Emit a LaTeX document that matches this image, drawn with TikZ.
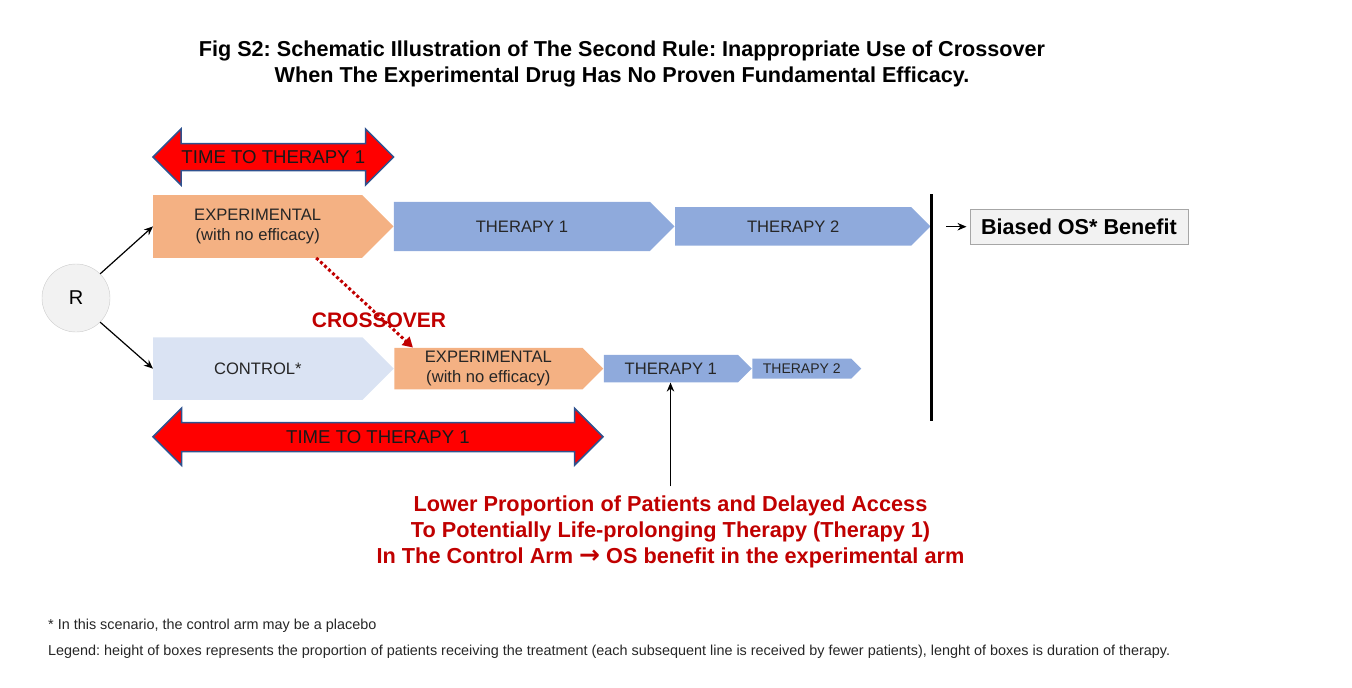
\documentclass[tikz,border=0pt]{standalone}
\usepackage{fontspec}
\setmainfont{Liberation Sans}
\newfontfamily\arrowfont{DejaVu Sans}
\usetikzlibrary{shapes.symbols,arrows.meta,calc}
\definecolor{expcol}{RGB}{244,177,131}
\definecolor{thcol}{RGB}{143,170,220}
\definecolor{ctrlcol}{RGB}{218,227,243}
\definecolor{darkred}{RGB}{192,0,0}
\definecolor{rimcol}{RGB}{47,82,143}
\definecolor{boxtext}{RGB}{38,38,38}
\frenchspacing
\tikzset{
  chev/.style={signal, signal to=east, signal pointer angle=90, inner sep=0pt, align=center, text=boxtext, font=\fontsize{16.6}{20}\selectfont, anchor=west},
  timearrow/.style={fill=red, draw=rimcol, line width=1.5pt, line join=miter},
  timetext/.style={text=black!90, font=\fontsize{18.6}{22}\selectfont},
  arr/.style={-{Stealth[length=9pt,width=7.5pt]}, line width=1.2pt},
  redbold/.style={text=darkred, font=\bfseries\fontsize{21.7}{25.8}\selectfont, align=center},
  foot/.style={anchor=base west, inner sep=0pt, text=boxtext, font=\fontsize{14.4}{16}\selectfont}
}
\begin{document}
\begin{tikzpicture}[x=1pt,y=-1pt]
    \useasboundingbox (0,0) rectangle (1352,688);
    \node[font=\bfseries\fontsize{21.6}{25.7}\selectfont, align=center] (title) at (622,63.9) {Fig S2: Schematic Illustration of The Second Rule: Inappropriate Use of Crossover\\When The Experimental Drug Has No Proven Fundamental Efficacy.};
    % time to therapy arrows
    \draw[timearrow] (153,157) -- (181,129) -- (181,143.5) -- (365.6,143.5) -- (365.6,129) -- (393.6,157) -- (365.6,185) -- (365.6,170.5) -- (181,170.5) -- (181,185) -- cycle;
    \node[timetext] (ttop) at (273.3,157) {TIME TO THERAPY 1};
    \draw[timearrow] (153,436.7) -- (181.5,408.2) -- (181.5,422.7) -- (574.5,422.7) -- (574.5,408.2) -- (603,436.7) -- (574.5,465.2) -- (574.5,451.7) -- (181.5,451.7) -- (181.5,465.2) -- cycle;
    \node[timetext] (tbot) at (378,436.7) {TIME TO THERAPY 1};
    % randomisation and arms
    \node[circle, fill=black!5, draw=black!20, minimum size=68pt, inner sep=0pt, font=\fontsize{20}{22}\selectfont] (R) at (76,298) {R};
    \node[chev, fill=expcol, minimum width=240.3pt, minimum height=62.7pt] (exp) at (153,226.4) {EXPERIMENTAL\\(with no efficacy)};
    \node[chev, fill=thcol, minimum width=280.6pt, minimum height=49.3pt] (th1) at (exp.east) {THERAPY 1};
    \node[chev, fill=thcol, minimum width=255.4pt, minimum height=38.4pt] (th2) at (th1.east) {THERAPY 2};
    \node[chev, fill=ctrlcol, minimum width=240.6pt, minimum height=62.6pt] (ctrl) at (153,368.6) {CONTROL*};
    \node[chev, fill=expcol, minimum width=209pt, minimum height=41.7pt] (bexp) at (ctrl.east) {EXPERIMENTAL\\(with no efficacy)};
    \node[chev, fill=thcol, minimum width=148pt, minimum height=27.6pt] (bth1) at (bexp.east) {THERAPY 1};
    \node[chev, fill=thcol, minimum width=109pt, minimum height=20pt, font=\fontsize{14}{16}\selectfont] (bth2) at (bth1.east) {THERAPY 2};
    \draw[arr] (R.45) -- (exp.west);
    \draw[arr] (R.-45) -- (ctrl.west);
    % crossover
    \coordinate (xo) at ($(exp.west)!0.678!(exp.east)$);
    \coordinate (xi) at ($(bexp.west)!0.09!(bexp.east)$);
    \draw[darkred, line width=3pt, dash pattern=on 3pt off 2.5pt, -{Triangle[length=10pt,width=11pt]}] (xo |- exp.south) -- (xi |- bexp.north);
    \node[anchor=base west, inner sep=0pt, text=darkred, font=\bfseries\fontsize{21}{24}\selectfont] (cross) at (311.7,327.3) {CROSSOVER};
    % outcome
    \draw[line width=3pt] (931,194) -- (931,421);
    \node[draw=black!35, fill=black!5, inner sep=0pt, minimum width=218.5pt, minimum height=34.7pt, anchor=west, font=\bfseries\fontsize{21.6}{24}\selectfont] (os) at (969.5,226.7) {Biased OS* Benefit};
    \draw[arr, shorten >=3pt] ([xshift=-23.5pt]os.west) -- (os.west);
    \node[redbold] (note) at (670.5,531.9) {Lower Proportion of Patients and Delayed Access\\To Potentially Life-prolonging Therapy (Therapy 1)\\In The Control Arm {\arrowfont\bfseries\fontsize{25}{25}\selectfont →} OS benefit in the experimental arm};
    \draw[arr, shorten <=6pt] (note.north) -- (note.north |- bth1.south);
    \node[foot] (star) at (48,629.5) {* In this scenario, the control arm may be a placebo};
    \node[foot] (legend) at (48,655.5) {Legend: height of boxes represents the proportion of patients receiving the treatment (each subsequent line is received by fewer patients), lenght of boxes is duration of therapy.};
\end{tikzpicture}
\end{document}
